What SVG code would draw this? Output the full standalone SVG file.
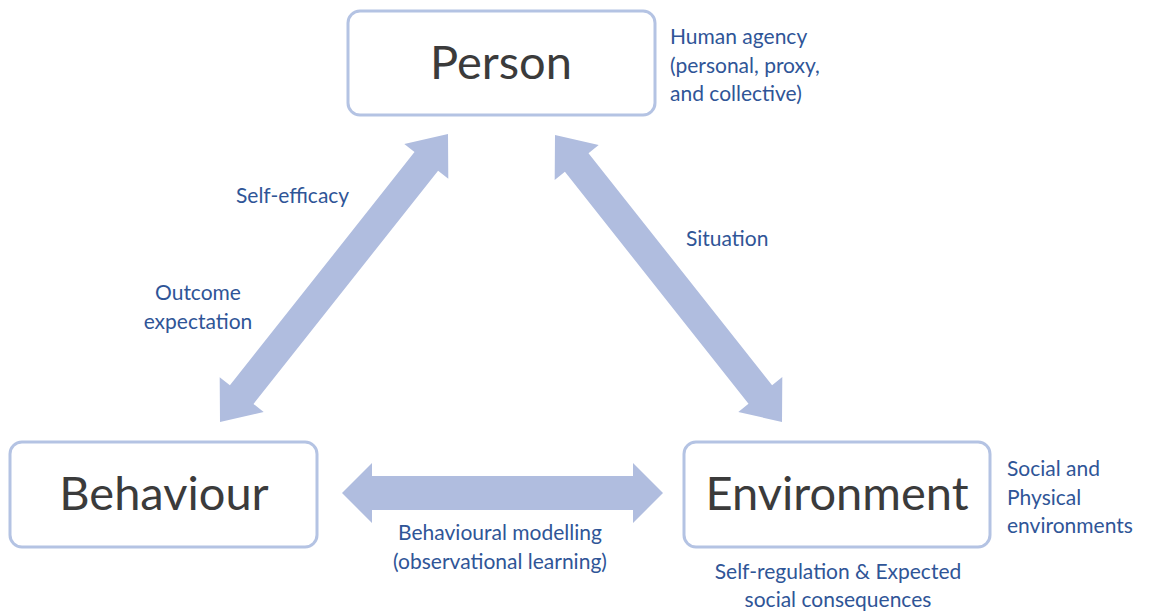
<svg xmlns="http://www.w3.org/2000/svg" width="1149" height="611" viewBox="0 0 1149 611">
<style>
.box{fill:#fff;stroke:#b4c3e3;stroke-width:3}
.big{font-family:Lato,"Open Sans",sans-serif;font-size:47px;fill:#3b3b3b;text-anchor:middle}
.lbl{font-family:Lato,"Open Sans",sans-serif;font-size:21px;fill:#2f5597}
.arr{fill:#b0bddf}
</style>
<rect width="1149" height="611" fill="#fff"/>
<g id="connectors">
<polygon class="arr" points="448,134 448.3,178.8 438.1,170.7 253.5,403.9 263.7,412 220,422 219.7,377.2 229.9,385.3 414.5,152.1 404.3,144"/>
<polygon class="arr" points="555,135 598.7,145.1 588.5,153.2 772.1,385.2 782.3,377.1 782,422 738.3,411.9 748.5,403.8 564.9,171.8 554.7,179.9"/>
<polygon class="arr" points="342,493 372,463 372,476 633,476 633,463 663,493 633,523 633,510 372,510 372,523"/>
</g>
<g id="person">
<rect class="box" x="348" y="11" width="307" height="104" rx="12"/>
<text class="big" x="501" y="79">Person</text>
</g>
<g id="behaviour">
<rect class="box" x="10" y="442" width="307" height="105" rx="12"/>
<text class="big" x="164" y="510">Behaviour</text>
</g>
<g id="environment">
<rect class="box" x="684" y="442" width="306" height="105" rx="12"/>
<text class="big" x="837" y="510">Environment</text>
</g>
<g id="labels">
<text class="lbl" x="670" y="44">Human agency</text>
<text class="lbl" x="670" y="73">(personal, proxy,</text>
<text class="lbl" x="670" y="101">and collective)</text>
<text class="lbl" x="236" y="203">Self-efficacy</text>
<text class="lbl" x="198" y="300" text-anchor="middle">Outcome</text>
<text class="lbl" x="198" y="329" text-anchor="middle">expectation</text>
<text class="lbl" x="686" y="246">Situation</text>
<text class="lbl" x="500" y="540" text-anchor="middle">Behavioural modelling</text>
<text class="lbl" x="500" y="569" text-anchor="middle">(observational learning)</text>
<text class="lbl" x="1007" y="476">Social and</text>
<text class="lbl" x="1007" y="505">Physical</text>
<text class="lbl" x="1007" y="533">environments</text>
<text class="lbl" x="838" y="579" text-anchor="middle">Self-regulation &amp; Expected</text>
<text class="lbl" x="838" y="607" text-anchor="middle">social consequences</text>
</g>
</svg>
